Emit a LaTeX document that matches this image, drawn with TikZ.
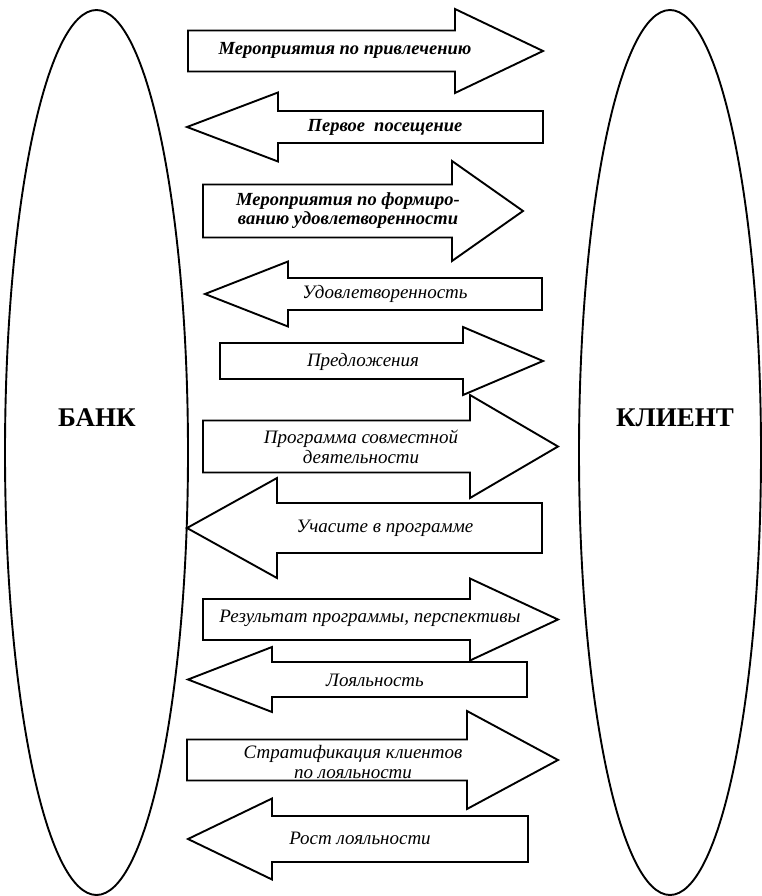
\documentclass[tikz,border=0pt]{standalone}
\usepackage{fontspec}
\setmainfont{Liberation Serif}
\begin{document}
\begin{tikzpicture}[x=1pt,y=-1pt,
  arr/.style={draw=black,fill=white,line width=1.9pt,line join=miter},
  oval/.style={draw=black,line width=1.9pt},
  lbl/.style={font=\fontsize{19}{20}\selectfont\itshape,align=center,inner sep=0pt},
  lblb/.style={font=\fontsize{18.5}{19}\selectfont\bfseries\itshape,align=center,inner sep=0pt},
  side/.style={font=\fontsize{27}{30}\selectfont\bfseries,inner sep=0pt}]
\useasboundingbox (0,0) rectangle (762,896);
% right arrow: x0, xbase, xtip, yc, shaft half, head half
\newcommand\RArr[6]{\draw[arr] (#1,#4-#5) -- (#2,#4-#5) -- (#2,#4-#6) -- (#3,#4) -- (#2,#4+#6) -- (#2,#4+#5) -- (#1,#4+#5) -- cycle;}
% left arrow: xtip, xbase, xend, yc, shaft half, head half
\newcommand\LArr[6]{\draw[arr] (#3,#4-#5) -- (#2,#4-#5) -- (#2,#4-#6) -- (#1,#4) -- (#2,#4+#6) -- (#2,#4+#5) -- (#3,#4+#5) -- cycle;}
% ovals
\draw[oval] (96.5,452.5) ellipse [x radius=91.5, y radius=442.5];
\draw[oval] (670,452.5) ellipse [x radius=91, y radius=442.5];
\node[side] (bank) at (97,418) {БАНК};
\node[side] (client) at (675,418) {КЛИЕНТ};
% arrows
\RArr{188}{455}{543}{51}{20.5}{42}
\LArr{187}{278}{543}{127}{16}{34.5}
\RArr{203}{452}{523}{211}{26.5}{50}
\LArr{205}{288}{542}{294}{16}{32.5}
\RArr{220}{463}{543}{361}{18}{34}
\RArr{203}{470}{558}{446.5}{26}{51.5}
\LArr{187}{277}{542}{528}{25}{50}
\RArr{203}{470}{558}{619.5}{20.5}{41}
\LArr{188}{272}{527}{679.5}{17.5}{32.5}
\RArr{187}{467}{558}{760}{20.5}{49}
\LArr{188}{272}{528}{839}{23}{40.5}
% labels
\node[lblb] (t1) at (345,50) {Мероприятия по привлечению};
\node[lblb] (t2) at (385,127) {Первое\ \ посещение};
\node[lblb] (t3) at (348,211) {Мероприятия по формиро-\\ванию удовлетворенности};
\node[lbl] (t4) at (385,294) {Удовлетворенность};
\node[lbl] (t5) at (363,362) {Предложения};
\node[lbl] (t6) at (361,447) {Программа совместной\\деятельности};
\node[lbl] (t7) at (385,528) {Учасите в программе};
\node[lbl] (t8) at (370,618) {Результат программы, перспективы};
\node[lbl] (t9) at (375,680) {Лояльность};
\node[lbl] (t10) at (353,762) {Стратификация клиентов\\по лояльности};
\node[lbl] (t11) at (360,838) {Рост лояльности};
\end{tikzpicture}
\end{document}
